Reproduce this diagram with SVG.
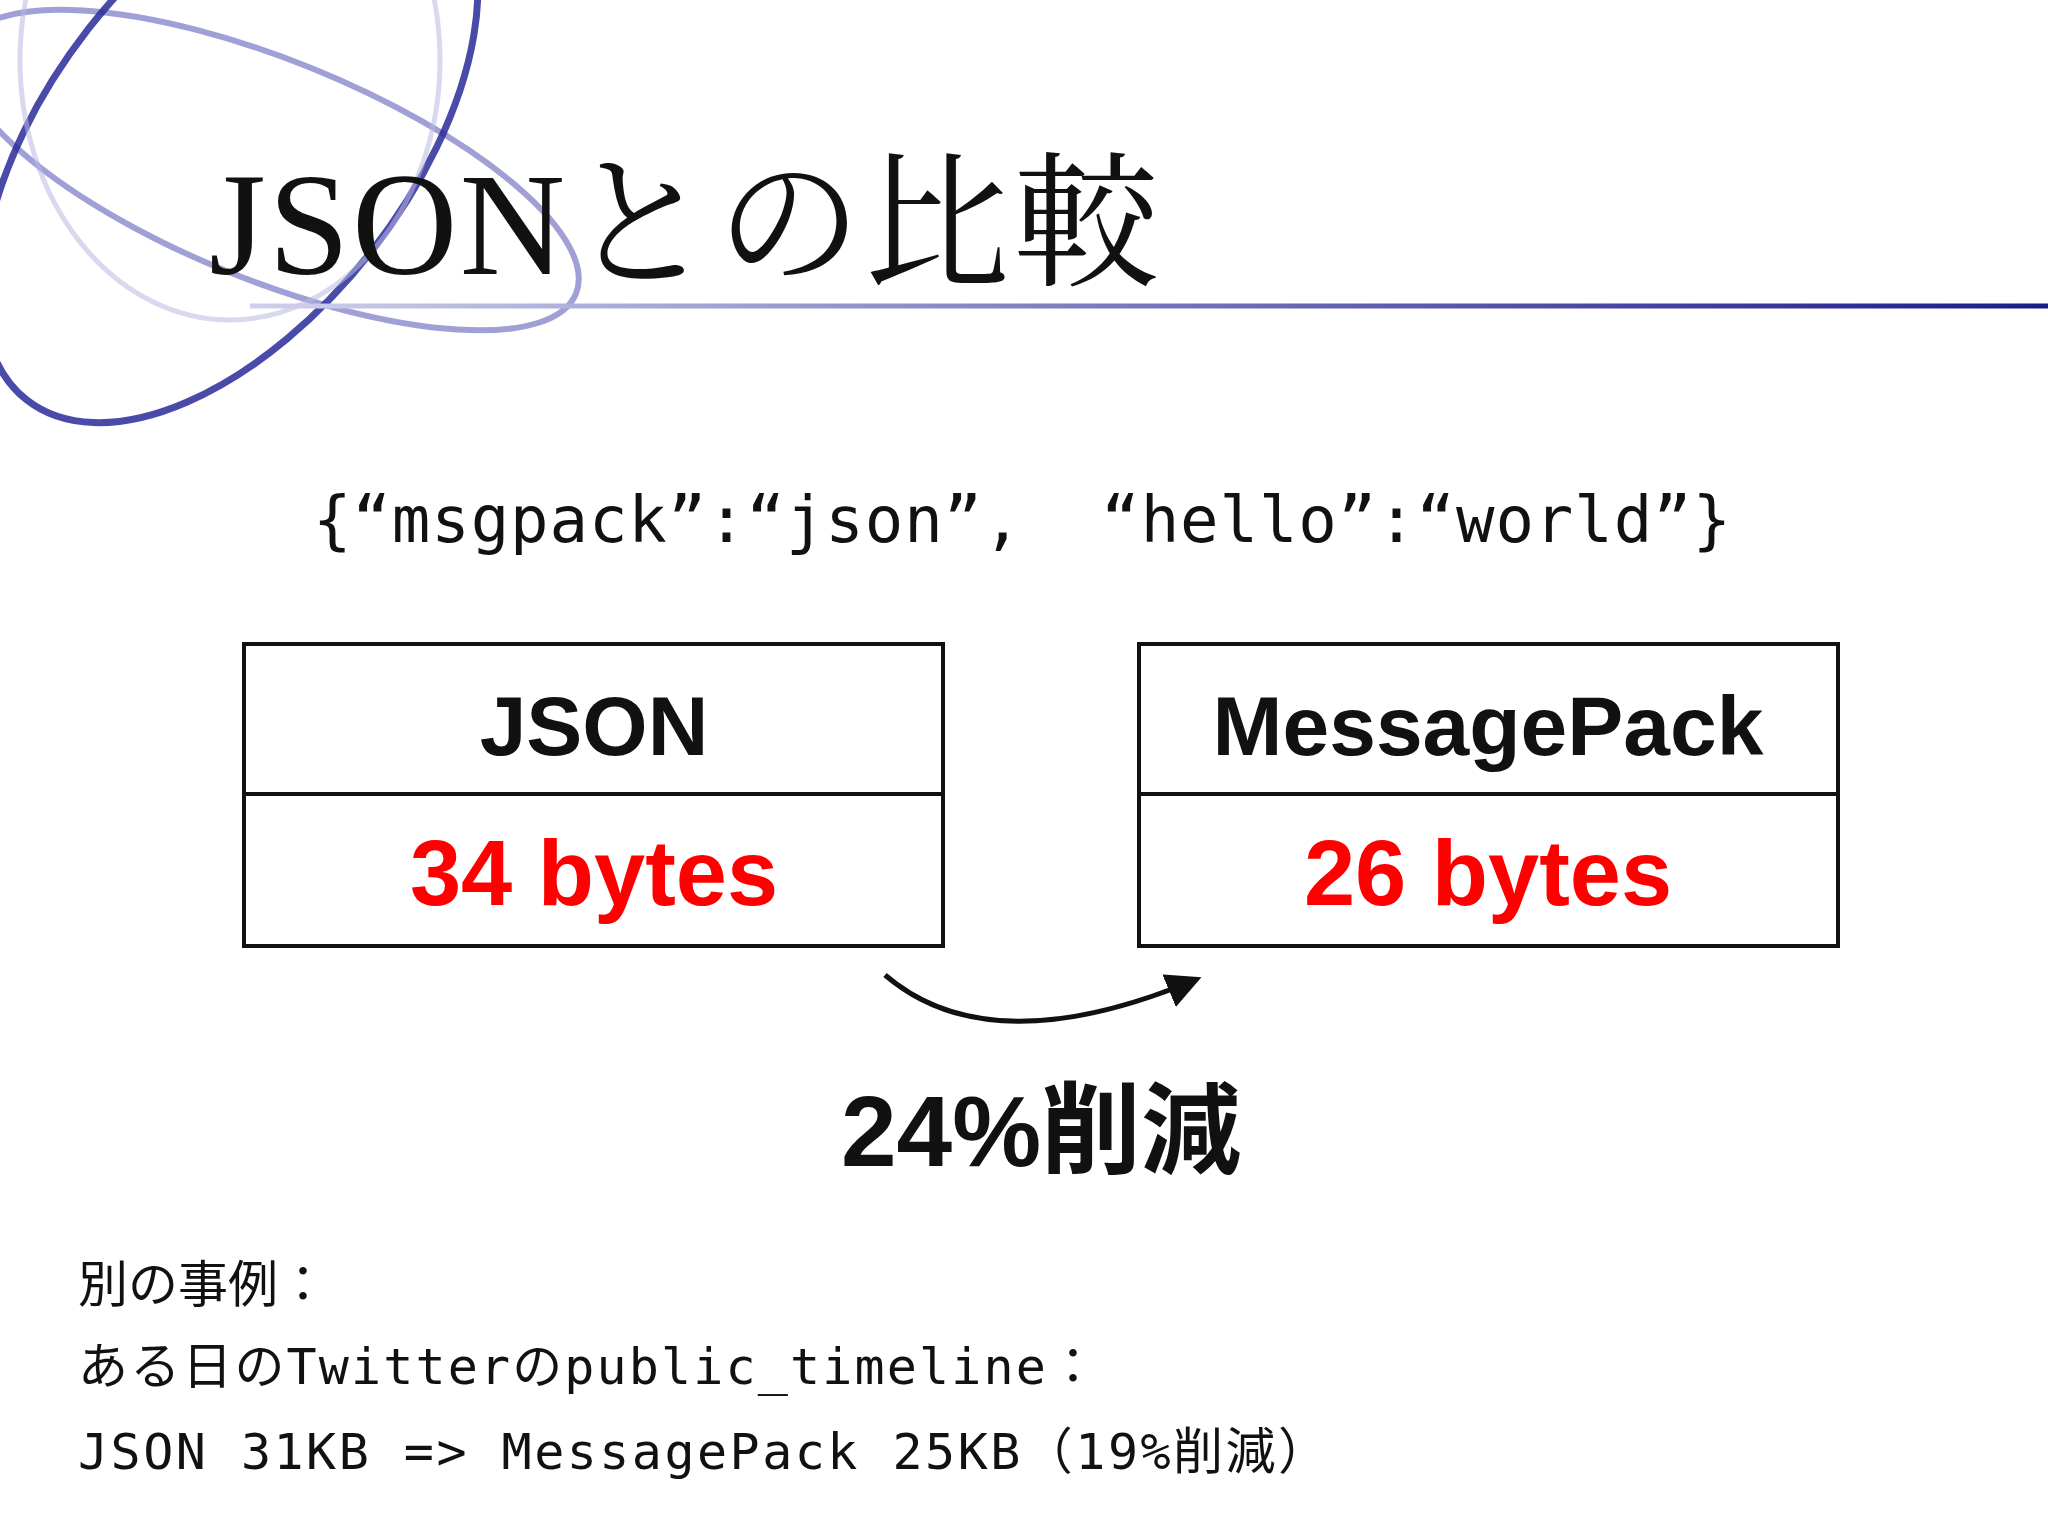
<svg xmlns="http://www.w3.org/2000/svg" width="2048" height="1536" viewBox="0 0 2048 1536">
<defs>
<linearGradient id="lg" gradientUnits="userSpaceOnUse" x1="250" y1="0" x2="2048" y2="0"><stop offset="0" stop-color="#d0d0ec"/><stop offset="1" stop-color="#1a1a8c"/></linearGradient>
<marker id="ah" viewBox="0 0 10 10" refX="8" refY="5" markerWidth="7" markerHeight="7" orient="auto"><path d="M0,0L10,5L0,10z" fill="#111"/></marker>
<style>
.box{fill:#fff;stroke:#111;stroke-width:4}
.hd{font-family:"Liberation Sans",sans-serif;font-weight:bold;font-size:84px;text-anchor:middle;fill:#111}
.val{font-family:"Liberation Sans",sans-serif;font-weight:bold;font-size:92px;text-anchor:middle;fill:#f00}
.mono{font-family:"DejaVu Sans Mono","Noto Sans CJK JP",monospace;fill:#111}
</style>
</defs>
<rect width="2048" height="1536" fill="#fff"/>
<g fill="none">
<ellipse cx="270" cy="170" rx="330" ry="110" transform="rotate(22 270 170)" stroke="#8080c8" stroke-width="6" opacity="0.75"/>
<ellipse cx="230" cy="140" rx="180" ry="330" transform="rotate(38 230 140)" stroke="#2a2a9a" stroke-width="7" opacity="0.85"/>
<ellipse cx="230" cy="60" rx="210" ry="260" stroke="#b8b8e2" stroke-width="5" opacity="0.55"/>
<line x1="250" y1="306" x2="2048" y2="306" stroke="url(#lg)" stroke-width="5"/>
</g>
<text x="209" y="274" textLength="950" font-family="Liberation Serif,'Noto Serif CJK JP','Noto Sans CJK JP',serif" font-size="146" fill="#111">JSONとの比較</text>
<text x="313" y="542" textLength="1418" xml:space="preserve" class="mono" font-size="64">{“msgpack”:“json”,  “hello”:“world”}</text>
<g id="json">
<rect class="box" x="244" y="644" width="699" height="302"/>
<line x1="244" y1="794" x2="943" y2="794" stroke="#111" stroke-width="4"/>
<text class="hd" x="594" y="755">JSON</text>
<text class="val" x="594" y="905">34 bytes</text>
</g>
<g id="msgpack">
<rect class="box" x="1139" y="644" width="699" height="302"/>
<line x1="1139" y1="794" x2="1838" y2="794" stroke="#111" stroke-width="4"/>
<text class="hd" x="1488" y="755">MessagePack</text>
<text class="val" x="1488" y="905">26 bytes</text>
</g>
<g id="connectors">
<path d="M885,975 Q990,1065 1195,980" fill="none" stroke="#111" stroke-width="5" marker-end="url(#ah)"/>
</g>
<text x="1041" y="1166" text-anchor="middle" font-family="'Liberation Sans','Noto Sans CJK JP',sans-serif" font-weight="bold" font-size="100" fill="#111">24%削減</text>
<g class="mono" font-size="50">
<text x="78" y="1302" font-family="'Noto Sans CJK JP',sans-serif">別の事例：</text>
<text x="78" y="1384" textLength="1020">ある日のTwitterのpublic_timeline：</text>
<text x="78" y="1469" textLength="1250">JSON 31KB =&gt; MessagePack 25KB（19%削減）</text>
</g>
</svg>
